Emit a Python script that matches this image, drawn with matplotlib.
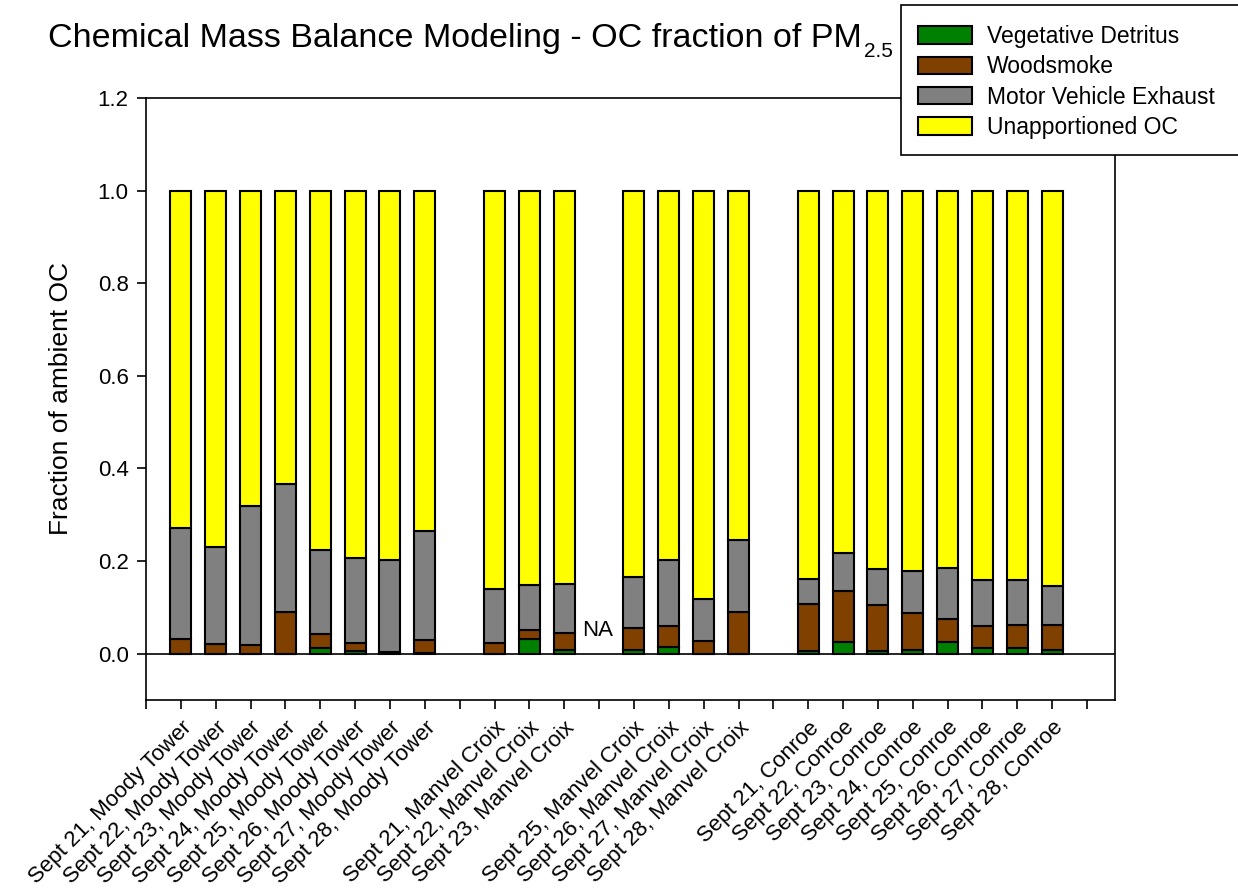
import numpy as np
import matplotlib
matplotlib.use("Agg")
import matplotlib.pyplot as plt
from matplotlib.patches import Patch, Rectangle

plt.rcParams['font.family'] = ['Liberation Sans', 'DejaVu Sans']

# sample labels, in plotting order (None = empty slot)
labels = [
    "Sept 21, Moody Tower", "Sept 22, Moody Tower", "Sept 23, Moody Tower", "Sept 24, Moody Tower",
    "Sept 25, Moody Tower", "Sept 26, Moody Tower", "Sept 27, Moody Tower", "Sept 28, Moody Tower",
    None,
    "Sept 21, Manvel Croix", "Sept 22, Manvel Croix", "Sept 23, Manvel Croix", None,
    "Sept 25, Manvel Croix", "Sept 26, Manvel Croix", "Sept 27, Manvel Croix", "Sept 28, Manvel Croix",
    None,
    "Sept 21, Conroe", "Sept 22, Conroe", "Sept 23, Conroe", "Sept 24, Conroe",
    "Sept 25, Conroe", "Sept 26, Conroe", "Sept 27, Conroe", "Sept 28, Conroe",
    None,
]
nan = np.nan

# source fractions per slot (nan = no bar)
vegetative = [0.000, 0.000, 0.000, 0.000, 0.012, 0.005, 0.001, 0.002,
              nan,
              0.000, 0.031, 0.007, nan, 0.009, 0.015, 0.000, 0.000,
              nan,
              0.006, 0.025, 0.006, 0.008, 0.025, 0.012, 0.012, 0.007,
              nan]
woodsmoke = [0.032, 0.021, 0.019, 0.089, 0.030, 0.018, 0.003, 0.027,
             nan,
             0.024, 0.020, 0.038, nan, 0.046, 0.045, 0.027, 0.090,
             nan,
             0.101, 0.110, 0.099, 0.079, 0.049, 0.048, 0.050, 0.054,
             nan]
motor_vehicle = [0.240, 0.209, 0.301, 0.277, 0.182, 0.184, 0.198, 0.237,
                 nan,
                 0.116, 0.097, 0.106, nan, 0.110, 0.143, 0.092, 0.155,
                 nan,
                 0.054, 0.082, 0.077, 0.091, 0.110, 0.099, 0.097, 0.085,
                 nan]
unapportioned = [0.728, 0.770, 0.680, 0.634, 0.776, 0.793, 0.798, 0.734,
                 nan,
                 0.860, 0.852, 0.849, nan, 0.835, 0.797, 0.881, 0.755,
                 nan,
                 0.839, 0.783, 0.818, 0.822, 0.816, 0.841, 0.841, 0.854,
                 nan]

series = [
    ("Vegetative Detritus", vegetative, "#008000"),
    ("Woodsmoke", woodsmoke, "#804000"),
    ("Motor Vehicle Exhaust", motor_vehicle, "#808080"),
    ("Unapportioned OC", unapportioned, "#FFFF00"),
]

x = np.arange(1, len(labels) + 1)

fig = plt.figure(figsize=(12.38, 8.94), dpi=100)
ax = fig.add_axes([0.1179, 0.217, 0.7827, 0.6734])

bottom = np.zeros(len(x))
for name, vals, col in series:
    v = np.array(vals, dtype=float)
    ok = ~np.isnan(v)
    ax.bar(x[ok], v[ok], width=0.6, bottom=bottom[ok], color=col,
           edgecolor='black', linewidth=1.5, zorder=3)
    bottom[ok] += v[ok]

# NA marker for missing Manvel Croix sample
ax.text(12.95, 0.05, "NA", fontsize=16, ha='center', va='center')

ax.axhline(0, color='black', linewidth=1.2, zorder=2)

ax.set_xlim(0, 27.8)
ax.set_ylim(-0.1, 1.2)
ax.set_yticks([0.0, 0.2, 0.4, 0.6, 0.8, 1.0, 1.2])
ax.set_yticklabels(["0.0", "0.2", "0.4", "0.6", "0.8", "1.0", "1.2"])
ax.set_xticks(np.arange(0, 28))
ax.set_xticklabels([""] + [l if l else "" for l in labels],
                   rotation=45, ha='right', rotation_mode='anchor')
ax.tick_params(axis='both', direction='out', length=6.5, width=1.2, colors='black')
ax.tick_params(axis='y', labelsize=16, pad=6)
ax.tick_params(axis='x', labelsize=16, pad=6)
for s in ax.spines.values():
    s.set_linewidth(1.2)

ax.set_ylabel("Fraction of ambient OC", fontsize=19, labelpad=18)

# title, with the "2.5" subscript placed by hand after "PM"
title = fig.text(0.039, 1 - 47 / 894, "Chemical Mass Balance Modeling - OC fraction of PM",
                 fontsize=24.5, ha='left', va='baseline')
fig.canvas.draw()
bb = title.get_window_extent(fig.canvas.get_renderer())
fig.text((bb.x1 + 2) / 1238, 1 - 57 / 894, "2.5", fontsize=15, ha='left', va='baseline')

# legend box runs past the right edge of the figure
fig.patches.append(Rectangle((901 / 1238, 1 - 155 / 894), 360 / 1238, 150 / 894,
                             transform=fig.transFigure, facecolor='white',
                             edgecolor='black', linewidth=1.2, zorder=4))
handles = [Patch(facecolor=c, edgecolor='black', linewidth=1.5) for _, _, c in series]
leg = fig.legend(handles, [n for n, _, _ in series], loc='upper left',
                 bbox_to_anchor=(918 / 1238, 1 - 25 / 894), fontsize=16.5, frameon=False,
                 handlelength=2.36, handleheight=0.8, handletextpad=0.65,
                 labelspacing=0.32, borderpad=0, borderaxespad=0)
leg.set_zorder(5)

fig.savefig("out.png", dpi=100)
